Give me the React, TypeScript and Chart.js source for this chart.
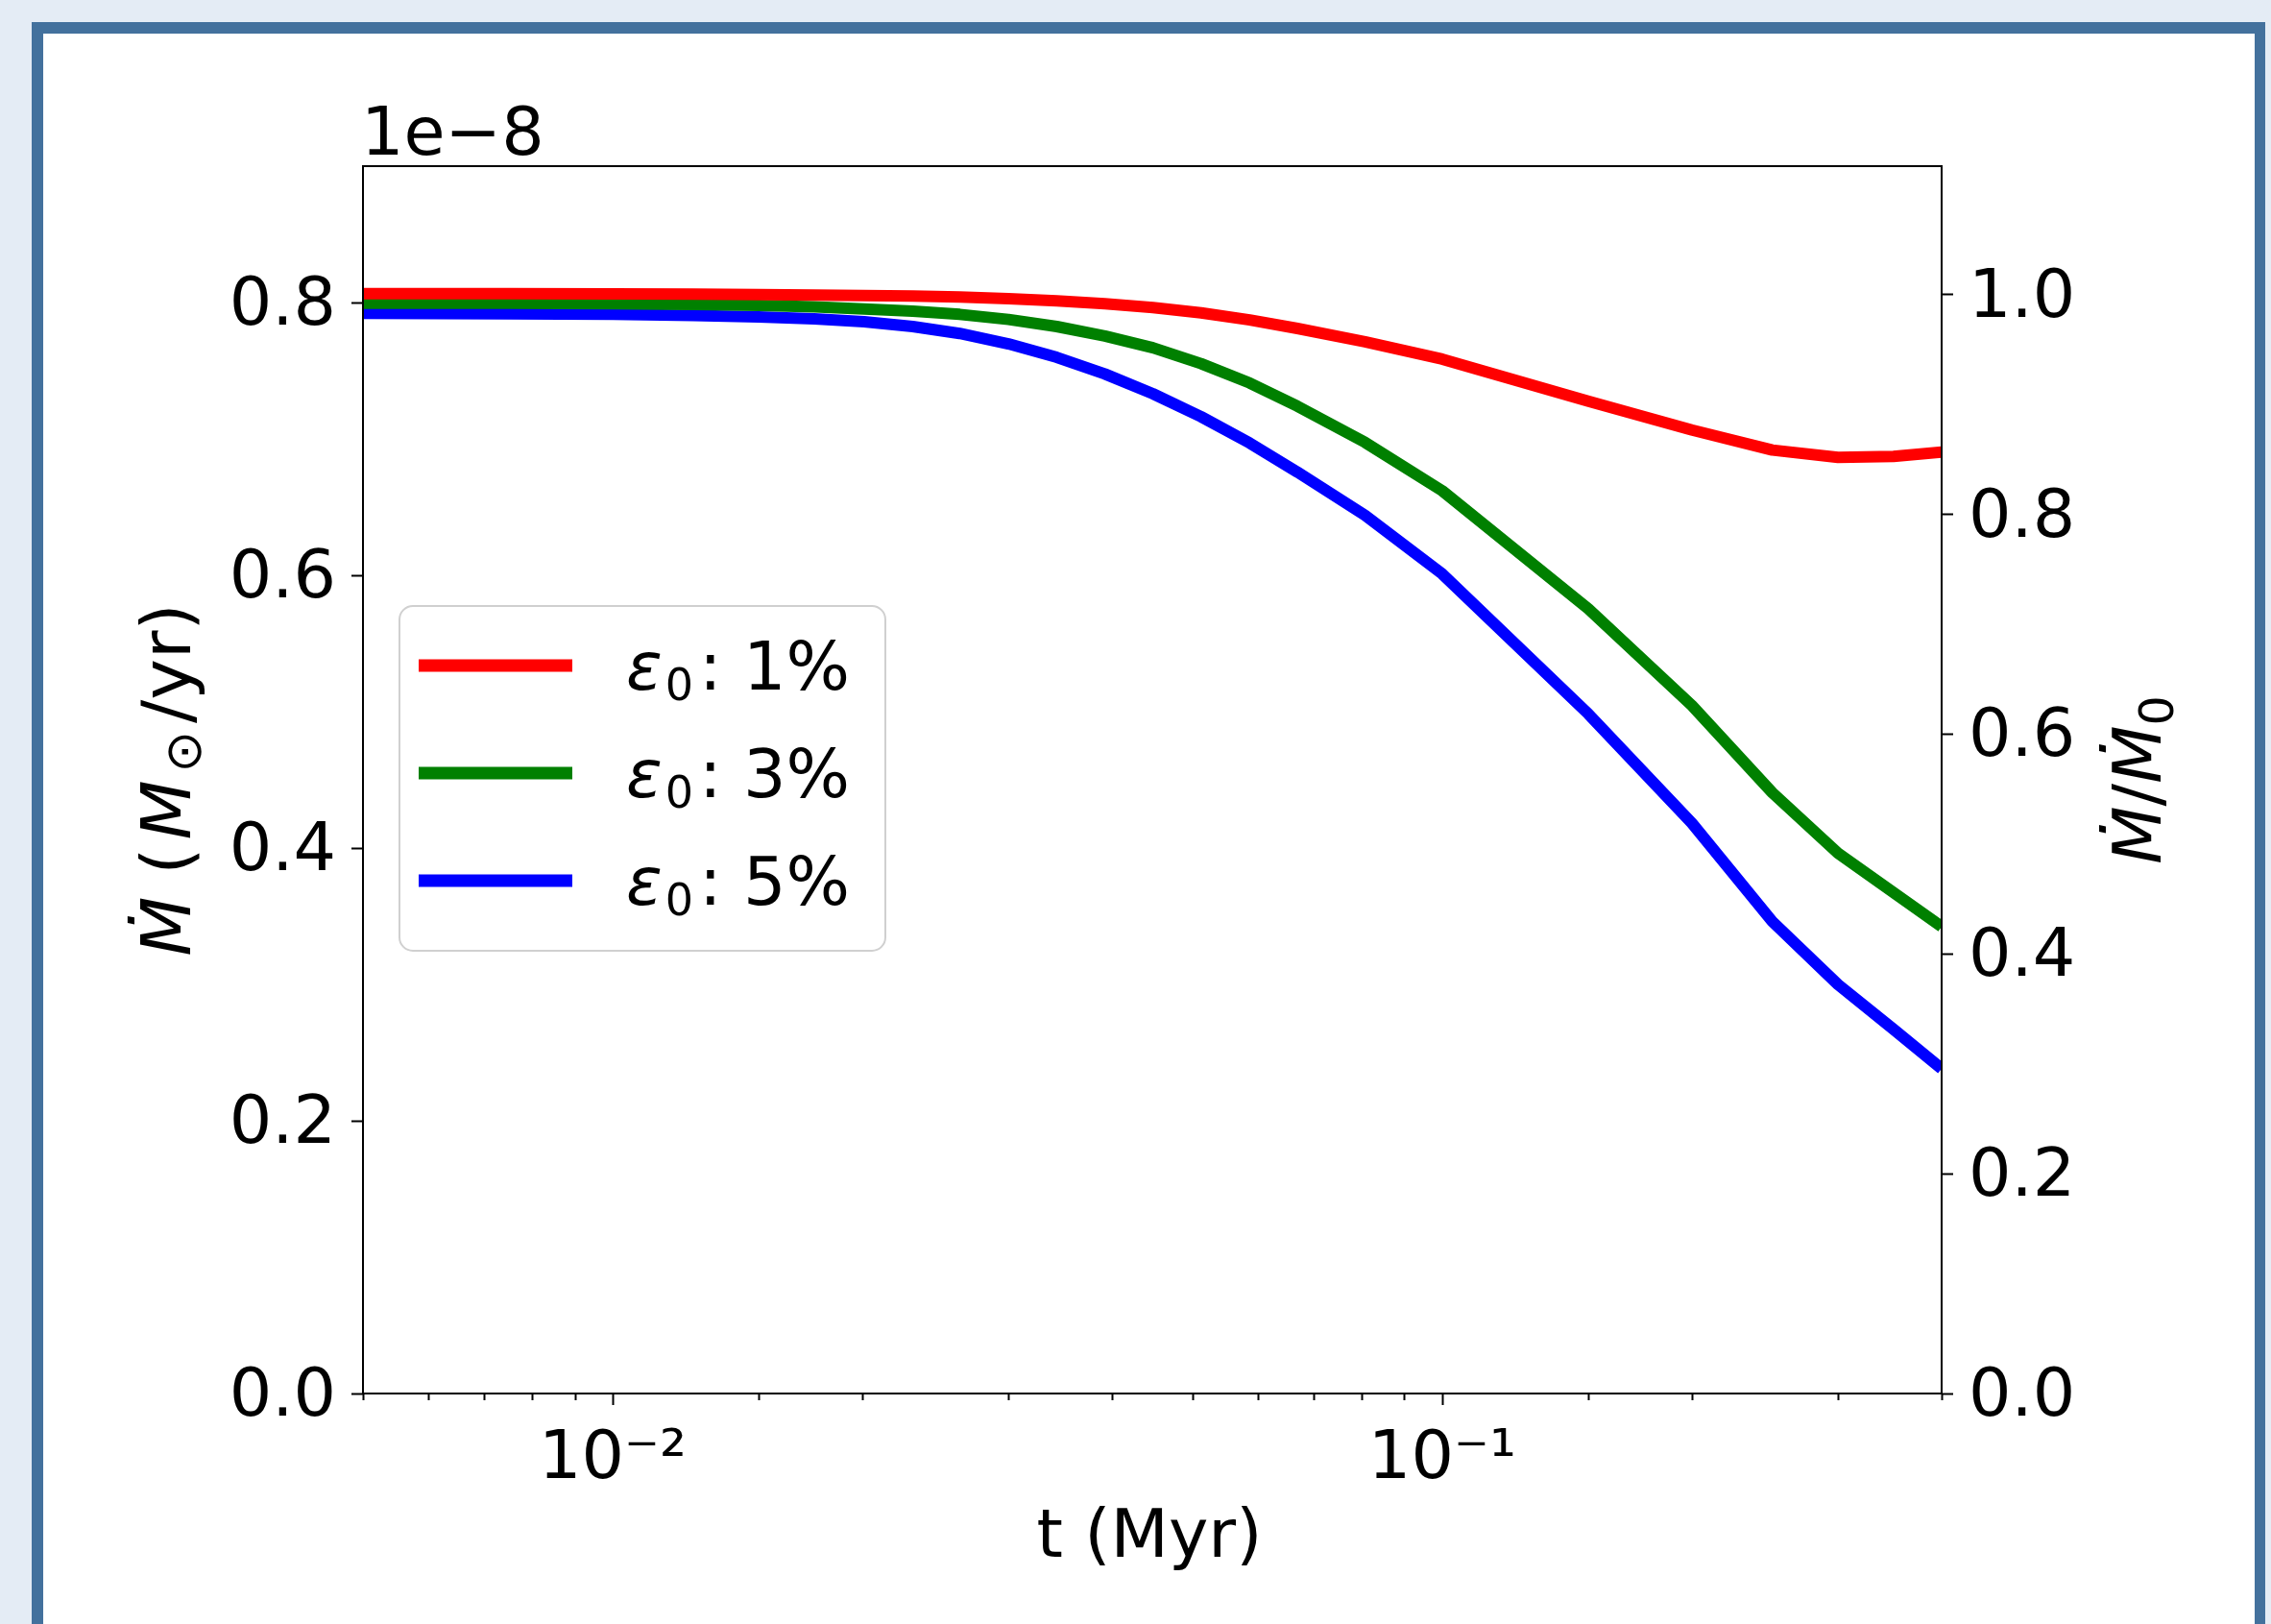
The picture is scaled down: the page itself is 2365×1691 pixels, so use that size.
import React, { useEffect, useRef } from 'react';
import { Chart, registerables } from 'chart.js';

Chart.register(...registerables);

// ---- data (Mdot in units of 1e-8 Msun/yr) ----
const T_MYR = [
  0.005, 0.0075, 0.01, 0.0125, 0.015, 0.0175,
  0.0201, 0.023, 0.0262, 0.03, 0.0343, 0.0392, 0.0448, 0.0512, 0.0586, 0.0669, 0.0807,
  0.1, 0.15, 0.2, 0.25, 0.3, 0.35, 0.4,
];
const MDOT_EPS1 = [
  0.8065, 0.8065, 0.8063, 0.8061, 0.8058, 0.8055,
  0.8051, 0.8047, 0.804, 0.8029, 0.8012, 0.7991, 0.7963, 0.7924, 0.7872, 0.781, 0.7712,
  0.7585, 0.7277, 0.7065, 0.6918, 0.6865, 0.6872, 0.6903,
];
const MDOT_EPS3 = [
  0.7995, 0.7994, 0.7991, 0.7986, 0.7978, 0.7968,
  0.7953, 0.7937, 0.7913, 0.7876, 0.7824, 0.7754, 0.7668, 0.7552, 0.741, 0.724, 0.6975,
  0.662, 0.5754, 0.5045, 0.4406, 0.3962, 0.3673, 0.3423,
];
const MDOT_EPS5 = [
  0.792, 0.7918, 0.7913, 0.7905, 0.7895, 0.788,
  0.7859, 0.7824, 0.7773, 0.7697, 0.7598, 0.7476, 0.7331, 0.7163, 0.697, 0.6757, 0.644,
  0.601, 0.4984, 0.4182, 0.3461, 0.2999, 0.2671, 0.2382,
];
const SERIES_LABELS = ['1%', '3%', '5%'];
const SERIES_COLORS = ['#ff0000', '#008000', '#0000ff'];

const LEFT_TICKS = [0, 0.2, 0.4, 0.6, 0.8];
const RIGHT_TICKS = [0, 0.2, 0.4, 0.6, 0.8, 1.0];
const X_MIN = 0.005;
const X_MAX = 0.4;
const Y_MAX = 0.9;
const M0_REF = 0.806; // normalisation for right axis (Mdot / Mdot_0)
const OFFSET_TEXT = '1e\u22128';
const X_TITLE = 't (Myr)';

const FONT = '"DejaVu Sans"';
const FS = 70;

type Seg = { t: string; it?: boolean; size?: number; dy?: number; gap?: number };

function fontFor(s: Seg) {
  return `${s.it ? 'italic ' : ''}${s.size || FS}px ${FONT}`;
}

function drawMath(ctx: CanvasRenderingContext2D, segs: Seg[], x: number, y: number, rot: number, align: 'center' | 'left') {
  ctx.save();
  ctx.translate(x, y);
  ctx.rotate(rot);
  ctx.textAlign = 'left';
  ctx.textBaseline = 'alphabetic';
  ctx.fillStyle = '#000';
  const widths = segs.map((s) => {
    ctx.font = fontFor(s);
    return ctx.measureText(s.t).width + (s.gap || 0);
  });
  const total = widths.reduce((a, b) => a + b, 0);
  let cx = align === 'center' ? -total / 2 : 0;
  segs.forEach((s, i) => {
    ctx.font = fontFor(s);
    ctx.fillText(s.t, cx, s.dy || 0);
    cx += widths[i];
  });
  ctx.restore();
}

const decorPlugin = {
  id: 'decor',
  beforeDraw(chart: any) {
    const { ctx, width, height } = chart;
    ctx.save();
    ctx.fillStyle = '#e4ecf5';
    ctx.fillRect(0, 0, width, height);
    ctx.fillStyle = '#43719d';
    ctx.fillRect(33, 23, 2326, height);
    ctx.fillStyle = '#ffffff';
    ctx.fillRect(45, 35, 2303, height);
    ctx.restore();
  },
  afterDatasetsDraw(chart: any) {
    const { ctx, chartArea } = chart;
    const { left, right, top, bottom } = chartArea;
    const xs = chart.scales.x;
    const ys = chart.scales.y;
    const y1 = chart.scales.y1;
    ctx.save();
    ctx.strokeStyle = '#000';
    ctx.lineWidth = 2;
    ctx.strokeRect(left, top, right - left, bottom - top);
    ctx.beginPath();
    ys.ticks.forEach((t: any) => {
      const p = Math.round(ys.getPixelForValue(t.value)) + 0.5;
      ctx.moveTo(left - 12, p);
      ctx.lineTo(left, p);
    });
    y1.ticks.forEach((t: any) => {
      const p = Math.round(y1.getPixelForValue(t.value)) + 0.5;
      ctx.moveTo(right, p);
      ctx.lineTo(right + 12, p);
    });
    xs.ticks.forEach((t: any) => {
      const lg = Math.log10(t.value);
      const major = Math.abs(lg - Math.round(lg)) < 1e-6;
      const p = Math.round(xs.getPixelForValue(t.value)) + 0.5;
      ctx.moveTo(p, bottom);
      ctx.lineTo(p, bottom + (major ? 12 : 7));
    });
    ctx.stroke();

    // offset text
    ctx.fillStyle = '#000';
    ctx.font = `${FS}px ${FONT}`;
    ctx.textAlign = 'left';
    ctx.textBaseline = 'alphabetic';
    ctx.fillText(OFFSET_TEXT, left - 2, 161);

    // x title
    ctx.textAlign = 'center';
    ctx.fillText(X_TITLE, (left + right) / 2 - 3, 1621);

    const cy = (top + bottom) / 2;
    // left y title
    drawMath(ctx, [
      { t: '\u1E40', it: true, size: 72 },
      { t: ' (', size: 72, gap: 8 },
      { t: 'M', it: true, size: 72, gap: 8 },
      { t: '\u2299', size: 52, dy: 11, gap: 8 },
      { t: '/yr)', size: 72 },
    ], 198, cy, -Math.PI / 2, 'center');
    // right y title
    drawMath(ctx, [
      { t: '\u1E40', it: true },
      { t: '/' },
      { t: '\u1E40', it: true },
      { t: '0', size: 49, dy: 13 },
    ], 2250, cy, -Math.PI / 2, 'center');

    // legend
    ctx.beginPath();
    ctx.roundRect(416, 631, 506, 359, 14);
    ctx.fillStyle = 'rgba(255,255,255,0.8)';
    ctx.fill();
    ctx.strokeStyle = '#d0d0d0';
    ctx.lineWidth = 2;
    ctx.stroke();
    const rowY = [693, 805, 917];
    chart.data.datasets.forEach((ds: any, i: number) => {
      const ly = rowY[i];
      ctx.beginPath();
      ctx.strokeStyle = ds.borderColor;
      ctx.lineWidth = 13;
      ctx.lineCap = 'butt';
      ctx.moveTo(436, ly);
      ctx.lineTo(596, ly);
      ctx.stroke();
      drawMath(ctx, [
        { t: '\u03B5', it: true, gap: 3 },
        { t: '0', size: 46, dy: 11, gap: 6 },
        { t: ': ' + SERIES_LABELS[i] },
      ], 652, ly + 25, 0, 'left');
    });
    ctx.restore();
  },
};

export default function App() {
  const ref = useRef<HTMLCanvasElement | null>(null);
  useEffect(() => {
    if (!ref.current) return;
    const seriesValues = [MDOT_EPS1, MDOT_EPS3, MDOT_EPS5];
    // lineHeight trick: label drawn as second of two lines -> nudged down by half the line height
    const yTickFont = { family: 'DejaVu Sans', size: FS, lineHeight: '10px' };
    const xTickFont = { family: 'DejaVu Sans', size: FS };
    const yLabel = (v: any) => ['', Number(v).toFixed(1)];
    const chart = new Chart(ref.current, {
      type: 'line',
      data: {
        datasets: seriesValues.map((vals, i) => ({
          label: '\u03B5\u2080: ' + SERIES_LABELS[i],
          data: T_MYR.map((t, j) => ({ x: t, y: vals[j] })),
          borderColor: SERIES_COLORS[i],
          backgroundColor: SERIES_COLORS[i],
          borderWidth: 12,
          pointRadius: 0,
          fill: false,
          tension: 0,
          clip: 0,
          borderJoinStyle: 'round',
          xAxisID: 'x',
          yAxisID: 'y',
        })),
      },
      options: {
        responsive: false,
        animation: false,
        devicePixelRatio: 1,
        layout: { padding: { left: 178, right: 143, top: 173, bottom: 90 } },
        plugins: { legend: { display: false }, tooltip: { enabled: false } },
        scales: {
          x: {
            type: 'logarithmic',
            position: 'bottom',
            min: X_MIN,
            max: X_MAX,
            grid: { display: false, drawTicks: false },
            border: { display: false },
            ticks: {
              autoSkip: false,
              maxRotation: 0,
              minRotation: 0,
              padding: 28,
              color: '#000',
              font: xTickFont,
              callback: (v: any) => {
                const lg = Math.log10(Number(v));
                if (Math.abs(lg - Math.round(lg)) < 1e-6) {
                  const e = Math.round(lg);
                  const sup: Record<string, string> = { '1': '\u00B9', '2': '\u00B2', '3': '\u00B3' };
                  return '10' + (e < 0 ? '\u207B' : '') + sup[String(Math.abs(e))];
                }
                return '';
              },
            },
            afterFit: (s: any) => { s.height = 150; },
          },
          y: {
            type: 'linear',
            position: 'left',
            min: 0,
            max: Y_MAX,
            grid: { display: false, drawTicks: false },
            border: { display: false },
            afterBuildTicks: (s: any) => { s.ticks = LEFT_TICKS.map((v) => ({ value: v })); },
            ticks: { padding: 28, color: '#000', font: yTickFont, callback: yLabel },
            afterFit: (s: any) => { s.width = 200; },
          },
          y1: {
            type: 'linear',
            position: 'right',
            min: 0,
            max: Y_MAX / M0_REF,
            grid: { display: false, drawTicks: false },
            border: { display: false },
            afterBuildTicks: (s: any) => { s.ticks = RIGHT_TICKS.map((v) => ({ value: v })); },
            ticks: { padding: 28, color: '#000', font: yTickFont, callback: yLabel },
            afterFit: (s: any) => { s.width = 200; },
          },
        },
      } as any,
      plugins: [decorPlugin],
    });
    return () => chart.destroy();
  }, []);
  return (
    <canvas
      ref={ref}
      width={2365}
      height={1691}
      style={{ position: 'fixed', left: 0, top: 0, width: 2365, height: 1691 }}
    />
  );
}
